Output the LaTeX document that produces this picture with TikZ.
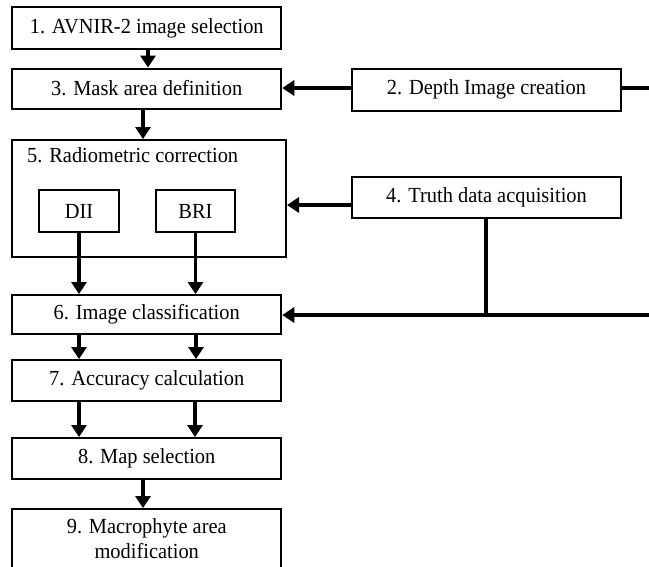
\documentclass[tikz,border=0pt]{standalone}
\usepackage{fontspec}
\setmainfont{Liberation Serif}[FakeStretch=0.95]
\usetikzlibrary{arrows.meta}
\begin{document}
\begin{tikzpicture}[x=1pt,y=-1pt,
  box/.style={draw,line width=2pt,inner sep=0pt,font=\fontsize{21.5}{25}\selectfont},
  conn/.style={line width=3.3pt},
  arr/.style={conn,-{Triangle[length=12pt,width=15pt]}}]
\useasboundingbox (0,0) rectangle (649,566);
\node[box,minimum width=269pt,minimum height=42pt] (b1) at (146.75,28) {1. AVNIR-2 image selection};
\node[box,minimum width=269pt,minimum height=40pt] (b3) at (146.75,88.5) {3. Mask area definition};
\node[box,minimum width=269pt,minimum height=42pt] (b2) at (486.5,89.5) {2. Depth Image creation};
\node[box,minimum width=274pt,minimum height=117pt] (b5) at (149,198.5) {};
\node[font=\fontsize{21.5}{25}\selectfont,anchor=west,inner sep=0pt] (b5t) at (27,155) {5. Radiometric correction};
\node[box,minimum width=80pt,minimum height=42pt] (dii) at (79,211) {DII};
\node[box,minimum width=79pt,minimum height=42pt] (bri) at (195.5,211) {BRI};
\node[box,minimum width=269pt,minimum height=41pt] (b4) at (486.5,197.5) {4. Truth data acquisition};
\node[box,minimum width=269pt,minimum height=39pt] (b6) at (146.75,314.5) {6. Image classification};
\node[box,minimum width=269pt,minimum height=41pt] (b7) at (146.75,380.5) {7. Accuracy calculation};
\node[box,minimum width=269pt,minimum height=41pt] (b8) at (146.75,458.5) {8. Map selection};
\node[box,minimum width=269pt,minimum height=59pt,align=center] (b9) at (146.75,538.5) {9. Macrophyte area\\modification};
\coordinate (r2) at (649,88);
\coordinate (r6) at (649,315);
\coordinate (j4) at (486,315);
% connectors
\draw[arr] (b1.south -| 148,0) -- (b3.north -| 148,0);
\draw[arr] (b3.south -| 143,0) -- (b5.north -| 143,0);
\draw[arr] (b2.west |- r2) -- (b3.east |- r2);
\draw[conn] (b2.east |- r2) -- (r2);
\draw[arr] ([yshift=-7.5pt]b4.west) -- ([yshift=-7.5pt]b4.west -| b5.east);
\draw[arr] (dii.south) -- (b6.north -| dii.south);
\draw[arr] (bri.south) -- (b6.north -| bri.south);
\draw[conn] (b4.south -| j4) -- (j4);
\draw[arr] (r6) -- (b6.east |- r6);
\draw[arr] (b6.south -| 79,0) -- (b7.north -| 79,0);
\draw[arr] (b6.south -| 196,0) -- (b7.north -| 196,0);
\draw[arr] (b7.south -| 79,0) -- (b8.north -| 79,0);
\draw[arr] (b7.south -| 195,0) -- (b8.north -| 195,0);
\draw[arr] (b8.south -| 143,0) -- (b9.north -| 143,0);
\end{tikzpicture}
\end{document}
